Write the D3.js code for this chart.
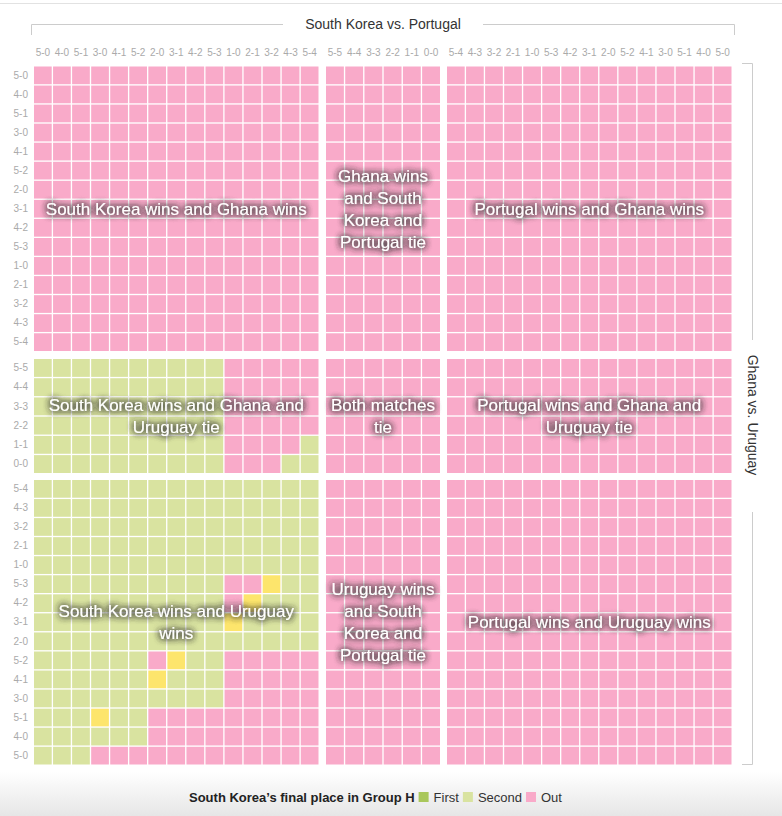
<html>
    <head>
        <style>
        body {
            margin: 0;
            background: #fff;
            font-family: 'Liberation Sans', Arial, sans-serif;
        }
        .tick text {
            fill: #aaa;
            font-size: 10px;
            font-family: 'Liberation Sans', Arial, sans-serif;
        }
        .block-label {
            fill: #fff;
            font-size: 17px;
            font-family: 'Liberation Sans', Arial, sans-serif;
            text-anchor: middle;
        }
        </style>
    </head>
    <body>
        <svg width="782" height="816"></svg>

        <script src="https://d3js.org/d3.v7.min.js"></script>

        <script>
            // South Korea vs. Portugal scores (columns)
            const skWinsScores = ["5-0","4-0","5-1","3-0","4-1","5-2","2-0","3-1","4-2","5-3","1-0","2-1","3-2","4-3","5-4"]
            const skPtTieScores = ["5-5","4-4","3-3","2-2","1-1","0-0"]
            const ptWinsScores = ["5-4","4-3","3-2","2-1","1-0","5-3","4-2","3-1","2-0","5-2","4-1","3-0","5-1","4-0","5-0"]

            // Ghana vs. Uruguay scores (rows)
            const ghWinsScores = ["5-0","4-0","5-1","3-0","4-1","5-2","2-0","3-1","4-2","5-3","1-0","2-1","3-2","4-3","5-4"]
            const ghUrTieScores = ["5-5","4-4","3-3","2-2","1-1","0-0"]
            const urWinsScores = ["5-4","4-3","3-2","2-1","1-0","5-3","4-2","3-1","2-0","5-2","4-1","3-0","5-1","4-0","5-0"]

            // South Korea's final place, one string per row, one letter per South Korea win column
            // s = second, y = level on everything, p = out. Every other cell is out.
            const ghUrTieOutcomes = [
                "ssssssssssppppp",
                "ssssssssssppppp",
                "ssssssssssppppp",
                "ssssssssssppppp",
                "sssssssssspppps",
                "sssssssssspppss"
            ]
            const urWinsOutcomes = [
                "sssssssssssssss",
                "sssssssssssssss",
                "sssssssssssssss",
                "sssssssssssssss",
                "sssssssssssssss",
                "ssssssssssppyss",
                "sssssssssspysss",
                "ssssssssssyssss",
                "sssssssssssssss",
                "sssssspyssppppp",
                "ssssssysssppppp",
                "ssssssssssppppp",
                "sssyssppppppppp",
                "ssssssppppppppp",
                "ssspppppppppppp"
            ]

            const legendItems = ["First", "Second", "Out"]

            const blockLabels = {
                "gh|sk": ["South Korea wins and Ghana wins"],
                "gh|tie": ["Ghana wins", "and South", "Korea and", "Portugal tie"],
                "gh|pt": ["Portugal wins and Ghana wins"],
                "tie|sk": ["South Korea wins and Ghana and", "Uruguay tie"],
                "tie|tie": ["Both matches", "tie"],
                "tie|pt": ["Portugal wins and Ghana and", "Uruguay tie"],
                "ur|sk": ["South Korea wins and Uruguay", "wins"],
                "ur|tie": ["Uruguay wins", "and South", "Korea and", "Portugal tie"],
                "ur|pt": ["Portugal wins and Uruguay wins"]
            }

            let colours = {s: "#d9e3a0", p: "#f9aac9", y: "#fde56c", f: "#a9c75b"}
            let legendColours = ["#a9c75b", "#d9e3a0", "#f9aac9"]

            let colGroups = [
                {key: "sk", cols: skWinsScores, range: [34, 318.5]},
                {key: "tie", cols: skPtTieScores, range: [326, 440]},
                {key: "pt", cols: ptWinsScores, range: [447, 731.5]}
            ]
            let rowGroups = [
                {key: "gh", rows: ghWinsScores, range: [66.5, 351]},
                {key: "tie", rows: ghUrTieScores, range: [359, 473]},
                {key: "ur", rows: urWinsScores, range: [480, 764.5]}
            ]
            let outcomes = {"tie|sk": ghUrTieOutcomes, "ur|sk": urWinsOutcomes}

            colGroups.forEach(g => g.x = d3.scaleBand().domain(g.cols).range(g.range).paddingInner(0.07))
            rowGroups.forEach(g => g.y = d3.scaleBand().domain(g.rows).range(g.range).paddingInner(0.07))

            let svg = d3.select("svg")

            let defs = svg.append("defs")
            let grad = defs.append("linearGradient").attr("id", "foot").attr("x1", 0).attr("y1", 0).attr("x2", 0).attr("y2", 1)
            grad.append("stop").attr("offset", "0%").attr("stop-color", "#fff")
            grad.append("stop").attr("offset", "100%").attr("stop-color", "#e6e6e6")

            let shadow = defs.append("filter").attr("id", "halo")
                .attr("x", "-20%").attr("y", "-60%").attr("width", "140%").attr("height", "220%")
            shadow.append("feGaussianBlur").attr("in", "SourceAlpha").attr("stdDeviation", 3.5).attr("result", "blur")
            shadow.append("feFlood").attr("flood-color", "#3a3a3a").attr("flood-opacity", 0.85)
            shadow.append("feComposite").attr("in2", "blur").attr("operator", "in").attr("result", "sh")
            let merge = shadow.append("feMerge")
            merge.append("feMergeNode").attr("in", "sh")
            merge.append("feMergeNode").attr("in", "sh")
            merge.append("feMergeNode").attr("in", "sh")
            merge.append("feMergeNode").attr("in", "SourceGraphic")

            // top rule and footer
            svg.append("line").attr("x1", 0).attr("x2", 782).attr("y1", 3.5).attr("y2", 3.5)
                .style("stroke", "#e2e2e2")
            svg.append("rect").attr("x", 0).attr("y", 772).attr("width", 782).attr("height", 44)
                .style("fill", "url(#foot)")

            // cells
            let cells = []
            rowGroups.forEach(rg => {
                colGroups.forEach(cg => {
                    let table = outcomes[rg.key + "|" + cg.key]
                    rg.rows.forEach((r, i) => {
                        cg.cols.forEach((c, j) => {
                            let o = table ? table[i][j] : "p"
                            cells.push({rg, cg, r, c, o})
                        })
                    })
                })
            })

            svg.append("g")
                .selectAll("rect")
                .data(cells)
                .enter().append("rect")
                .attr("x", d => d.cg.x(d.c))
                .attr("y", d => d.rg.y(d.r))
                .attr("width", d => d.cg.x.bandwidth())
                .attr("height", d => d.rg.y.bandwidth())
                .style("fill", d => colours[d.o])

            // axes
            colGroups.forEach(cg => {
                let ax = svg.append("g")
                    .attr("transform", "translate(0,56)")
                    .call(d3.axisTop(cg.x).tickSize(0).tickPadding(0))
                ax.select(".domain").remove()
            })
            rowGroups.forEach(rg => {
                let ax = svg.append("g")
                    .attr("transform", "translate(28,0)")
                    .call(d3.axisLeft(rg.y).tickSize(0).tickPadding(0))
                ax.select(".domain").remove()
            })

            // brackets
            let br = svg.append("g").style("stroke", "#ccc").style("fill", "none")
            br.append("path").attr("d", "M31.5,35V24.5H283")
            br.append("path").attr("d", "M483,24.5H734.5V35")
            br.append("path").attr("d", "M742,63.5H752.5V340")
            br.append("path").attr("d", "M752.5,512V764.5H742")

            svg.append("text")
                .attr("x", 383).attr("y", 29)
                .attr("text-anchor", "middle")
                .style("font-size", "14px").style("fill", "#333")
                .text("South Korea vs. Portugal")

            svg.append("text")
                .attr("transform", "translate(747.5,415) rotate(90)")
                .attr("text-anchor", "middle")
                .style("font-size", "14px").style("fill", "#333")
                .text("Ghana vs. Uruguay")

            // block labels
            rowGroups.forEach(rg => {
                colGroups.forEach(cg => {
                    let lines = blockLabels[rg.key + "|" + cg.key]
                    let cx = (cg.range[0] + cg.range[1]) / 2
                    let cy = (rg.range[0] + rg.range[1]) / 2
                    let lh = 22
                    let t = svg.append("text")
                        .attr("class", "block-label")
                        .attr("filter", "url(#halo)")
                    lines.forEach((l, i) => {
                        t.append("tspan")
                            .attr("x", cx)
                            .attr("y", cy + (i - (lines.length - 1) / 2) * lh + 6)
                            .text(l)
                    })
                })
            })

            // legend
            let legend = svg.append("g").attr("transform", "translate(0,797)")
            let title = legend.append("text")
                .attr("x", 189).attr("y", 5)
                .style("font-size", "13px").style("font-weight", "bold").style("fill", "#222")
                .text("South Korea\u2019s final place in Group H")
            let lx = title.node().getComputedTextLength() + 189 + 4
            legendItems.forEach((item, i) => {
                legend.append("rect")
                    .attr("x", lx).attr("y", -5)
                    .attr("width", 10).attr("height", 10)
                    .style("fill", legendColours[i])
                let tx = legend.append("text")
                    .attr("x", lx + 15).attr("y", 5)
                    .style("font-size", "13px").style("fill", "#333")
                    .text(item)
                lx += 15 + tx.node().getComputedTextLength() + 4
            })
        </script>
    </body>
</html>
